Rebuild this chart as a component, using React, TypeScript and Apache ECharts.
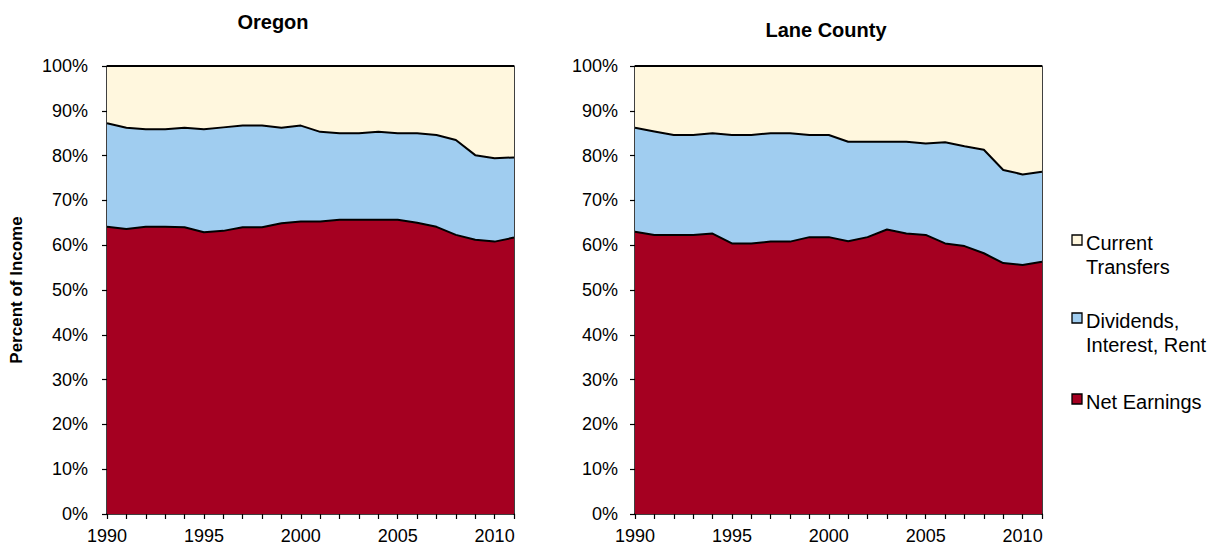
import React, { useEffect, useRef } from "react";
import * as echarts from "echarts";

const years = [
  "1990","1991","1992","1993","1994","1995","1996","1997","1998","1999","2000",
  "2001","2002","2003","2004","2005","2006","2007","2008","2009","2010","2011",
];
const yTicks = [0, 10, 20, 30, 40, 50, 60, 70, 80, 90, 100];

// Oregon shares (percent of income)
const orNet = [64.1,63.6,64.1,64.1,64.0,62.9,63.2,64.0,64.0,64.9,65.3,65.3,65.7,65.7,65.7,65.7,65.0,64.1,62.3,61.2,60.8,61.7];
const orDiv = [23.1,22.6,21.8,21.8,22.2,23.0,23.1,22.7,22.7,21.3,21.4,20.0,19.3,19.3,19.6,19.3,20.0,20.5,21.2,18.9,18.6,17.9];
const orTrans = [12.8,13.8,14.1,14.1,13.8,14.1,13.7,13.3,13.3,13.8,13.3,14.7,15.0,15.0,14.7,15.0,15.0,15.4,16.5,19.9,20.6,20.4];

// Lane County shares (percent of income)
const lcNet = [63.0,62.3,62.3,62.3,62.6,60.4,60.4,60.8,60.8,61.8,61.8,60.9,61.8,63.5,62.6,62.3,60.4,59.8,58.2,56.0,55.6,56.3];
const lcDiv = [23.2,23.1,22.3,22.3,22.4,24.2,24.2,24.2,24.2,22.8,22.8,22.2,21.3,19.6,20.5,20.4,22.6,22.3,23.1,20.8,20.2,20.1];
const lcTrans = [13.8,14.6,15.4,15.4,15.0,15.4,15.4,15.0,15.0,15.4,15.4,16.9,16.9,16.9,16.9,17.3,17.0,17.9,18.7,23.2,24.2,23.6];

const seriesNames = ["Net Earnings", "Dividends, Interest, Rent", "Current Transfers"];
const legendLabels = ["Current\nTransfers", "Dividends,\nInterest, Rent", "Net Earnings"];
const titles = ["Oregon", "Lane County"];
const colors = { net: "#A50021", div: "#A0CDF0", trans: "#FFF7DE" };

const FONT = "'Liberation Sans', Arial, sans-serif";
const TICK_FS = 18;
const LEGEND_FS = 20;
const TITLE_FS = 20;

export default function App() {
  const ref = useRef<HTMLDivElement>(null);
  useEffect(() => {
    if (!ref.current) return;
    const chart = echarts.init(ref.current, undefined, { renderer: "svg" });
    const grids = [
      { left: 107, top: 66, width: 407, height: 448 },
      { left: 635, top: 66, width: 407, height: 448 },
    ];
    const xAxes = grids.map((_, i) => ({
      type: "category",
      gridIndex: i,
      data: years,
      boundaryGap: false,
      axisLine: { show: true, lineStyle: { color: "#000", width: 1.5 } },
      axisTick: { show: true, interval: 0, length: 5, lineStyle: { color: "#000", width: 1.2 } },
      axisLabel: { interval: 4, margin: 13, color: "#000", fontSize: TICK_FS, fontFamily: FONT },
      splitLine: { show: false },
    }));
    const yAxes: any[] = [];
    grids.forEach((_, i) => {
      yAxes.push({
        type: "value",
        gridIndex: i,
        min: 0,
        max: 100,
        interval: 10,
        name: i === 0 ? "Percent of Income" : "",
        nameLocation: "middle",
        nameRotate: 90,
        nameGap: 82,
        nameTextStyle: { color: "#000", fontSize: 17, fontWeight: "bold", fontFamily: FONT },
        axisLine: { show: true, lineStyle: { color: "#000", width: 1.5 } },
        axisTick: { show: true, length: 5, lineStyle: { color: "#000", width: 1.2 } },
        axisLabel: {
          margin: i === 0 ? 19 : 17,
          color: "#000",
          fontSize: TICK_FS,
          fontFamily: FONT,
          formatter: (v: number) => (yTicks.includes(v) ? v + "%" : ""),
        },
        splitLine: { show: false },
      });
      yAxes.push({
        type: "value",
        gridIndex: i,
        position: "right",
        min: 0,
        max: 100,
        interval: 10,
        axisLine: { show: true, lineStyle: { color: "#000", width: 1.5 } },
        axisTick: { show: false },
        axisLabel: { show: false },
        splitLine: { show: false },
      });
    });
    const mk = (name: string, data: number[], color: string, gi: number, stack: string) => ({
      name,
      type: "line",
      xAxisIndex: gi,
      yAxisIndex: gi * 2,
      stack,
      data,
      symbol: "none",
      lineStyle: { color: "#000", width: 2 },
      areaStyle: { color, opacity: 1 },
      z: 2,
    });
    const legendColors = [colors.trans, colors.div, colors.net];
    const legendY = [243, 321, 402];
    const graphic: any[] = [
      {
        type: "text",
        x: 273,
        y: 22,
        style: { text: titles[0], fill: "#000", font: `bold ${TITLE_FS}px ${FONT}`, align: "center", verticalAlign: "middle" },
      },
      {
        type: "text",
        x: 826,
        y: 30,
        style: { text: titles[1], fill: "#000", font: `bold ${TITLE_FS}px ${FONT}`, align: "center", verticalAlign: "middle" },
      },
    ];
    legendLabels.forEach((lab, k) => {
      graphic.push({
        type: "rect",
        shape: { x: 1072, y: legendY[k] - 8, width: 10, height: 10 },
        style: { fill: legendColors[k], stroke: "#000", lineWidth: 1.3 },
      });
      graphic.push({
        type: "text",
        x: 1086,
        y: legendY[k] - 12,
        style: { text: lab, fill: "#000", font: `${LEGEND_FS}px ${FONT}`, lineHeight: 24, align: "left", verticalAlign: "top" },
      });
    });
    chart.setOption({
      animation: false,
      backgroundColor: "#fff",
      grid: grids,
      xAxis: xAxes,
      yAxis: yAxes,
      graphic,
      series: [
        mk(seriesNames[0], orNet, colors.net, 0, "or"),
        mk(seriesNames[1], orDiv, colors.div, 0, "or"),
        mk(seriesNames[2], orTrans, colors.trans, 0, "or"),
        mk(seriesNames[0], lcNet, colors.net, 1, "lc"),
        mk(seriesNames[1], lcDiv, colors.div, 1, "lc"),
        mk(seriesNames[2], lcTrans, colors.trans, 1, "lc"),
      ],
    });
    return () => chart.dispose();
  }, []);
  return (
    <div
      ref={ref}
      style={{ position: "absolute", left: 0, top: 0, width: 1223, height: 554 }}
    />
  );
}
